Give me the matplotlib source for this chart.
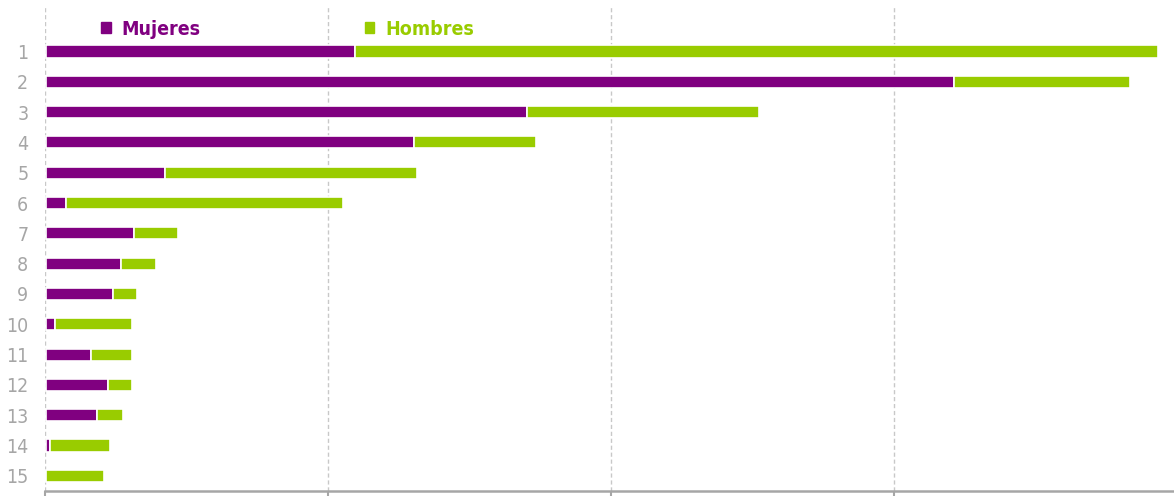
"""
Horizontal stacked bars, Mujeres / Hombres by rank.
"""

import matplotlib.pyplot as plt
from matplotlib.patches import Patch

categories = [str(i) for i in range(1, 16)]
mujeres = [109, 321, 170, 130, 42, 7, 31, 26.5, 23.5, 3, 16, 22, 18, 1.5, 0]
hombres = [284, 62, 82, 43, 89, 98, 15.5, 12.5, 8.5, 27.5, 14.5, 8.5, 9, 21, 20.5]

purple = '#800080'
green = '#99CC00'
gray = '#A6A6A6'

plt.rcParams['font.family'] = ['DejaVu Sans']
plt.rcParams['font.stretch'] = 'condensed'

fig = plt.figure(figsize=(11.74, 4.96), dpi=100)
ax = fig.add_axes([45 / 1174, 5 / 496, 1 - 45 / 1174, 485 / 496])

ypos = list(range(1, len(categories) + 1))
ax.barh(ypos, mujeres, height=0.4, left=0.4, color=purple, edgecolor='white',
        linewidth=1.2, zorder=3)
ax.barh(ypos, hombres, left=[m + 0.4 for m in mujeres], height=0.4, color=green,
        edgecolor='white', linewidth=1.2, zorder=3)

ax.set_xlim(0, 399)
ax.set_ylim(15.5, -0.5)
ax.set_yticks(ypos)
ax.set_yticklabels(categories)
ax.set_xticks([0, 100, 200, 300])
ax.set_xticklabels([])

# grid and axes styling
ax.grid(axis='x', color='#C8C8C8', linestyle=(0, (3, 2)), linewidth=1, zorder=0)
ax.set_axisbelow(True)
for side in ['top', 'right', 'left']:
    ax.spines[side].set_visible(False)
ax.spines['bottom'].set_color(gray)
ax.spines['bottom'].set_linewidth(1.8)
ax.tick_params(axis='y', length=0, pad=12, labelsize=14, labelcolor=gray)
ax.tick_params(axis='x', direction='out', length=5, width=1.5, color=gray)

handles = [Patch(color=purple, label='Mujeres'), Patch(color=green, label='Hombres')]
leg = ax.legend(handles=handles, loc='center left', bbox_to_anchor=(0.034, 0.952),
                ncol=2, frameon=False, handlelength=0.5, handleheight=0.5,
                handletextpad=0.55, columnspacing=8.45,
                labelcolor=[purple, green],
                prop={'size': 14, 'weight': 'bold', 'stretch': 'condensed'})

plt.savefig('out.png', dpi=100)
